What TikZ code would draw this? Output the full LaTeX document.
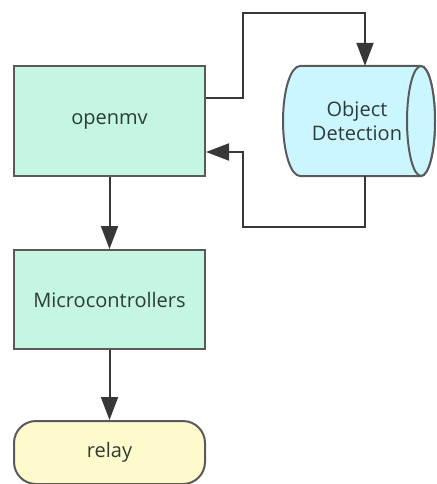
\documentclass[tikz,border=0pt]{standalone}
\usepackage{fontspec}
\setmainfont{Open Sans}
\usetikzlibrary{arrows.meta}
\definecolor{mint}{RGB}{196,246,226}
\definecolor{skyc}{RGB}{204,246,255}
\definecolor{pale}{RGB}{255,250,204}
\definecolor{edge}{RGB}{90,90,90}
\definecolor{wire}{RGB}{55,55,55}
\definecolor{txt}{RGB}{45,60,55}
\tikzset{
  lbl/.style={text=txt,font=\fontsize{20}{24}\selectfont,inner sep=0pt},
  box/.style={lbl,draw=edge,line width=2pt,fill=mint,minimum width=191pt,minimum height=110pt},
  dbtext/.style={lbl,align=center,minimum width=154pt,minimum height=110pt},
  dbshape/.style={draw=edge,line width=2pt,fill=skyc},
  term/.style={lbl,draw=edge,line width=2pt,fill=pale,rounded corners=22pt,minimum width=191pt,minimum height=63pt},
  conn/.style={draw=wire,line width=2pt,-{Triangle[length=23pt,width=17pt]}}
}
\begin{document}
\begin{tikzpicture}[x=1pt,y=-1pt]
\useasboundingbox (0,0) rectangle (436,484);
\node[box] (om) at (109.5,121) {openmv};
% cylinder body
\path[dbshape] (300,66) -- (421,66) arc[start angle=-90,end angle=90,x radius=14,y radius=55] -- (300,176) arc[start angle=90,end angle=270,x radius=17,y radius=55] -- cycle;
\path[dbshape] (421,121) ellipse[x radius=14,y radius=55];
\node[dbtext] (od) at (357,121) {Object\\Detection};
\node[box,minimum height=99pt] (mc) at (109.5,299.5) {Microcontrollers};
\node[term] (rl) at (109.5,452.5) {relay};
\draw[conn] ([yshift=23pt]om.east) -- (243,98) -- (243,13) -- (365,13) -- ([xshift=8pt]od.north);
\draw[conn] ([xshift=8pt]od.south) -- (365,227) -- (243,227) -- (243,152) -- ([yshift=-31pt]om.east);
\draw[conn] (om.south) -- (mc.north);
\draw[conn] (mc.south) -- (rl.north);
\end{tikzpicture}
\end{document}
